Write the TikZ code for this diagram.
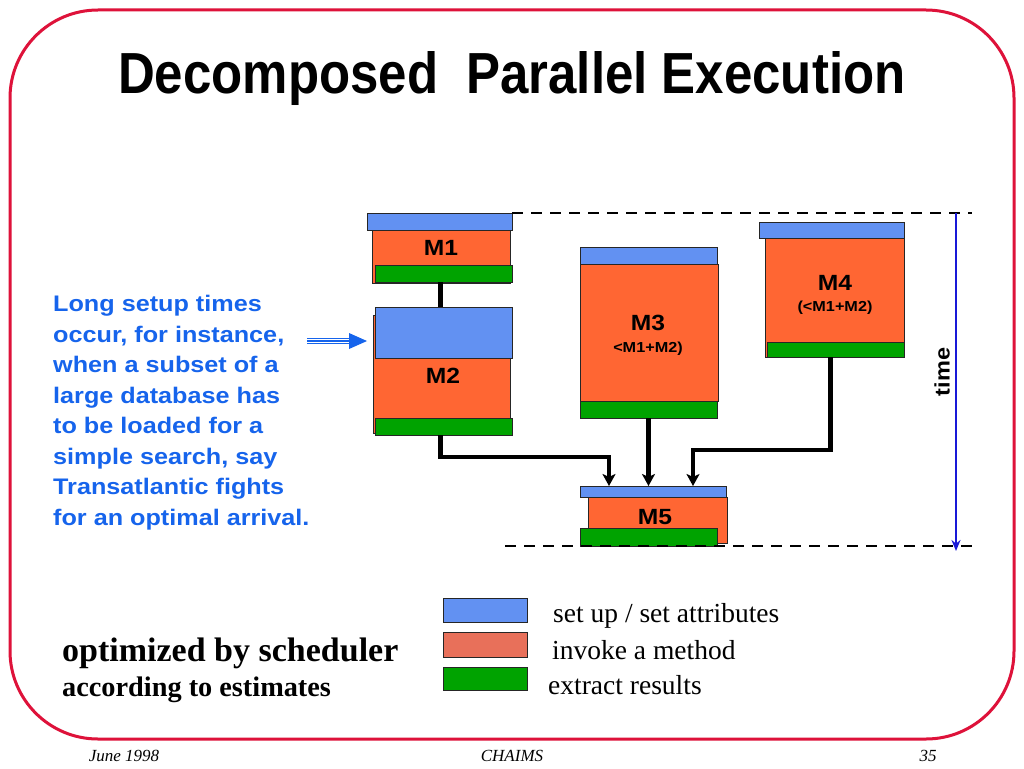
\documentclass[tikz,border=0pt]{standalone}
\usepackage{fontspec}
\setmainfont{Liberation Serif}
\setsansfont{Liberation Sans}
\newfontfamily\wsans[FakeStretch=1.12]{Liberation Sans}
\usetikzlibrary{arrows.meta,calc}
\definecolor{setupc}{RGB}{98,145,242}
\definecolor{invokec}{RGB}{255,102,51}
\definecolor{extractc}{RGB}{0,163,0}
\definecolor{legorange}{RGB}{232,112,90}
\definecolor{framec}{RGB}{222,18,58}
\definecolor{txtblue}{RGB}{22,100,236}
\definecolor{timeblue}{RGB}{25,25,215}
\tikzset{
  bx/.style={draw=black!85, line width=0.8pt, inner sep=0pt, outer sep=0pt, anchor=north west},
  su/.style={bx, fill=setupc},
  inv/.style={bx, fill=invokec},
  ex/.style={bx, fill=extractc},
  lab/.style={font=\wsans\bfseries\fontsize{22}{25}\selectfont, inner sep=0pt},
  sublab/.style={font=\wsans\bfseries\fontsize{14.5}{17}\selectfont, inner sep=0pt},
  conn/.style={line width=4.5pt, black},
  arr/.style={conn, -{Stealth[length=12pt,width=13pt,inset=3pt]}},
  dsh/.style={line width=2.5pt, dash pattern=on 11pt off 8pt},
  legtxt/.style={font=\fontsize{27.5}{30}\selectfont, anchor=base west, inner sep=0pt},
  foot/.style={font=\itshape\fontsize{17}{20}\selectfont, anchor=base, inner sep=0pt},
}
\begin{document}
\begin{tikzpicture}[x=1pt,y=-1pt]
\useasboundingbox (0,0) rectangle (1024,768);
\fill[white] (0,0) rectangle (1024,768);
\draw[framec, line width=3pt, rounded corners=88pt] (10,10) rectangle (1014,739);

% title
\node[anchor=base west, inner sep=0pt] (title) at (118,93)
  {\resizebox{787pt}{42pt}{\sffamily\bfseries Decomposed\ \ Parallel Execution}};

% M1
\node[inv, minimum width=138pt, minimum height=53pt] (m1i) at (372,230) {};
\node[su, minimum width=145pt, minimum height=17pt] (m1s) at (367,213) {};
\node[ex, minimum width=137pt, minimum height=17pt] (m1e) at (375,265) {};
\node[lab] (m1t) at (441,248) {M1};

% M2
\node[inv, minimum width=137pt, minimum height=118pt] (m2i) at (373,315) {};
\node[su, minimum width=137pt, minimum height=51pt] (m2s) at (375,307) {};
\node[ex, minimum width=137pt, minimum height=17pt] (m2e) at (375,418) {};
\node[lab] (m2t) at (443,376) {M2};

% M3
\node[inv, minimum width=138pt, minimum height=137pt] (m3i) at (580,264) {};
\node[su, minimum width=137pt, minimum height=17pt] (m3s) at (580,247) {};
\node[ex, minimum width=137pt, minimum height=17pt] (m3e) at (580,401) {};
\node[lab] (m3t) at (648,323) {M3};
\node[sublab] (m3u) at (648,349) {<M1+M2)};

% M4
\node[inv, minimum width=139pt, minimum height=119pt] (m4i) at (765,238) {};
\node[su, minimum width=145pt, minimum height=16pt] (m4s) at (759,222) {};
\node[ex, minimum width=137pt, minimum height=15pt] (m4e) at (767,342) {};
\node[lab] (m4t) at (835,283) {M4};
\node[sublab] (m4u) at (835,308) {(<M1+M2)};

% M5
\node[inv, minimum width=139pt, minimum height=46pt] (m5i) at (588,497) {};
\node[su, minimum width=146pt, minimum height=11pt] (m5s) at (580,486) {};
\node[ex, minimum width=137pt, minimum height=18pt] (m5e) at (580,528) {};
\node[lab] (m5t) at (655,517) {M5};

% connectors
\draw[conn] ([xshift=-3pt]m1e.south) -- ([xshift=-3pt]m2s.north);
\coordinate (j1) at (609,457);
\coordinate (j2) at (693,450);
\draw[arr] ([xshift=-3pt]m2e.south) |- (j1) -- (j1 |- m5s.north);
\draw[arr] (m3e.south) -- (m3e.south |- m5s.north);
\draw[arr] ([xshift=-5pt]m4e.south) |- (j2) -- (j2 |- m5s.north);

% dashed time bounds
\coordinate (dtr) at (972,213);
\coordinate (dbl) at (505,546);
\coordinate (dbr) at (972,546);
\draw[dsh] (m1s.north east) -- (dtr);
\draw[dsh] (dbl) -- (dbr);

% time axis
\coordinate (ta) at (956,213);
\coordinate (tb) at (956,551);
\draw[timeblue, line width=2pt, -{Stealth[length=11pt,width=9pt]}] (ta) -- (tb);
\node[font=\wsans\bfseries\fontsize{21}{24}\selectfont, rotate=90, inner sep=0pt] (time) at (942,372) {time};

% blue explanatory text
\node[anchor=north west, inner sep=0pt, align=left, text=txtblue,
      font=\wsans\bfseries\fontsize{22.5}{30.5}\selectfont] (expl) at (53,295)
  {Long setup times\\occur, for instance,\\when a subset of a\\large database has\\to be loaded for a\\simple search, say\\Transatlantic fights\\for an optimal arrival.};

% blue triple arrow
\coordinate (as) at (307,341);
\coordinate (ae) at (367,341);
\foreach \dy in {-2.6,0,2.6}
  \draw[txtblue, line width=1.3pt] ([yshift=\dy pt]as) -- ([xshift=-14pt,yshift=\dy pt]ae);
\fill[txtblue] (ae) -- ([xshift=-18pt,yshift=-8pt]ae) -- ([xshift=-18pt,yshift=8pt]ae) -- cycle;

% legend
\node[su, minimum width=84pt, minimum height=24pt] (lg1) at (443,598) {};
\node[bx, fill=legorange, minimum width=84pt, minimum height=25pt] (lg2) at (443,632) {};
\node[ex, minimum width=84pt, minimum height=23pt] (lg3) at (443,667) {};
\node[legtxt] (lt1) at (553,622) {set up / set attributes};
\node[legtxt] (lt2) at (552,659) {invoke a method};
\node[legtxt] (lt3) at (548,694) {extract results};

% scheduler text
\node[anchor=base west, inner sep=0pt, font=\bfseries\fontsize{34}{37}\selectfont] (opt) at (62,661) {optimized by scheduler};
\node[anchor=base west, inner sep=0pt, font=\bfseries\fontsize{28.3}{31}\selectfont] (acc) at (62,696) {according to estimates};

% footer
\node[foot] (f1) at (124,761) {June 1998};
\node[foot] (f2) at (512,761) {CHAIMS};
\node[foot] (f3) at (928,761) {35};
\end{tikzpicture}
\end{document}
